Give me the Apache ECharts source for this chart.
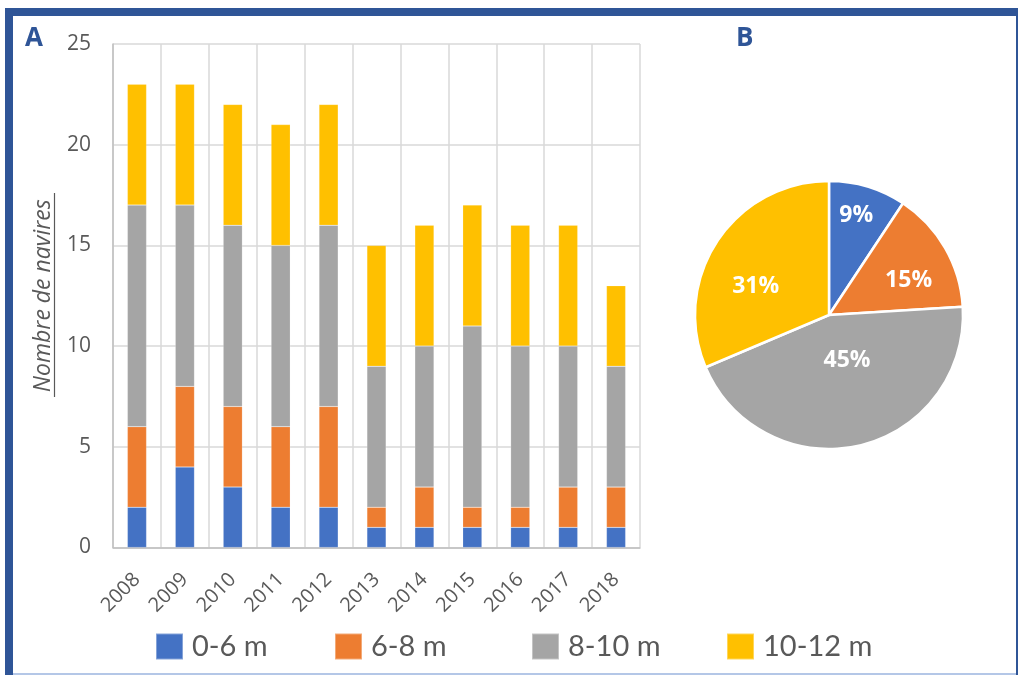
<!DOCTYPE html>
<html><head><meta charset="utf-8">
<script src="https://cdn.jsdelivr.net/npm/echarts@6/dist/echarts.min.js"></script>
<style>html,body{margin:0;padding:0;background:#fff}#c{width:1019px;height:675px}</style>
</head><body><div id="c"></div>
<script>
const years = ['2008','2009','2010','2011','2012','2013','2014','2015','2016','2017','2018'];
const seriesNames = ['0-6 m','6-8 m','8-10 m','10-12 m'];
const s0_6 = [2,4,3,2,2,1,1,1,1,1,1];
const s6_8 = [4,4,4,4,5,1,2,1,1,2,2];
const s8_10 = [11,9,9,9,9,7,7,9,8,7,6];
const s10_12 = [6,6,6,6,6,6,6,6,6,6,4];
const yTicks = [0,5,10,15,20,25];

const colors = ['#4472C4','#ED7D31','#A5A5A5','#FFC000'];
const seriesData = [s0_6, s6_8, s8_10, s10_12];
const sum = a => a.reduce((p,c)=>p+c,0);
const pieValues = seriesData.map(sum);

const labelOffsets = [[7,-33],[19,0],[2,-23],[-15,10]];
const legendLefts = [155,334,531,726];

const chart = echarts.init(document.getElementById('c'), null, {renderer:'canvas'});
const tickColor = '#595959';
const option = {
  animation:false,
  color: colors,
  textStyle:{fontFamily:'Open Sans'},
  grid:{left:113, top:44, right:379, bottom:127.5, containLabel:false},
  legend: seriesNames.map((n,i)=>({
    data:[n], left:legendLefts[i], top:632, itemWidth:27, itemHeight:26, itemGap:0, padding:0,
    icon:'rect', selectedMode:false,
    textStyle:{fontSize:29, color:tickColor, fontFamily:'Lato', padding:[0,0,0,4]}
  })),
  xAxis:{
    type:'category', data:years, boundaryGap:true,
    axisLine:{show:true, lineStyle:{color:'#BFBFBF', width:1.5}},
    axisTick:{show:false},
    splitLine:{show:true, lineStyle:{color:'#D9D9D9', width:1.5}},
    axisLabel:{rotate:45, fontSize:20, color:tickColor, margin:29, interval:0}
  },
  yAxis:{
    type:'value', min:yTicks[0], max:yTicks[yTicks.length-1], interval:5,
    name:'Nombre de navires', nameLocation:'middle', nameGap:58,
    nameTextStyle:{fontSize:23, fontStyle:'italic', color:tickColor},
    axisLine:{show:true, lineStyle:{color:'#BFBFBF', width:1.5}},
    axisTick:{show:false},
    splitLine:{show:true, lineStyle:{color:'#D9D9D9', width:1.5}},
    axisLabel:{fontSize:21, color:tickColor, margin:22}
  },
  series: seriesNames.map((n,i)=>({
    name:n, type:'bar', stack:'t', data:seriesData[i], barWidth:'40%',
    itemStyle:{color:colors[i], borderColor:'rgba(255,255,255,0.35)', borderWidth:0.5}
  })).concat([{
    type:'pie', center:[829,315], radius:134, startAngle:90, clockwise:true,
    legendHoverLink:false,
    itemStyle:{borderColor:'#fff', borderWidth:2.5},
    label:{show:true, position:'inside', formatter: p => Math.round(p.percent)+'%',
      color:'#fff', fontWeight:'bold', fontSize:23, fontFamily:'Open Sans'},
    labelLine:{show:false},
    data: seriesNames.map((n,i)=>({name:n, value:pieValues[i], itemStyle:{color:colors[i]}, label:{offset:labelOffsets[i]}}))
  }]),
  graphic:[
    {type:'rect', shape:{x:5,y:8,width:1013,height:8}, style:{fill:'#2F5597'}},
    {type:'rect', shape:{x:5,y:8,width:8,height:667}, style:{fill:'#2F5597'}},
    {type:'rect', shape:{x:1016,y:8,width:2,height:667}, style:{fill:'#2F5597'}},
    {type:'rect', shape:{x:13,y:673,width:1003,height:2}, style:{fill:'#B4C7E7'}},
    {type:'text', left:25, top:26, style:{text:'A', fill:'#2F5597', font:'bold 26px "Open Sans"'}},
    {type:'text', left:736, top:26, style:{text:'B', fill:'#2F5597', font:'bold 26px "Open Sans"'}},
    {type:'line', shape:{x1:54.5,y1:193,x2:54.5,y2:397}, style:{stroke:tickColor, lineWidth:1.2}}
  ]
};
chart.setOption(option);
</script></body></html>
